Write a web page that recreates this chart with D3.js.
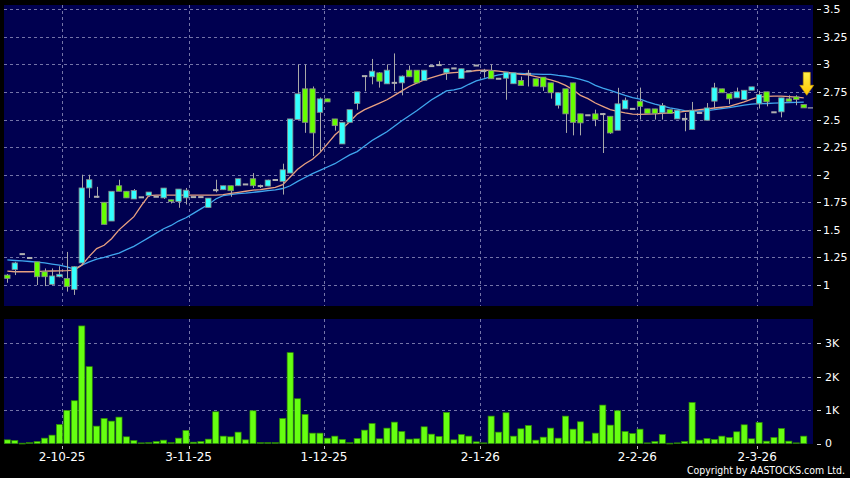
<!DOCTYPE html>
<html>
<head>
<meta charset="utf-8">
<style type="text/css">
body { margin: 0; background: #000; }
text { font-family: "DejaVu Sans", sans-serif; fill: #fff; }
</style>
</head>
<body>
<script src="https://d3js.org/d3.v7.min.js"></script>
<script>
// daily candles (HKD)
var opens = [1.09,1.14,1.28,1.245,1.21,1.12,1.006,1.075,1.06,0.96,
  1.20,1.88,1.80,1.75,1.58,1.90,1.85,1.78,1.795,1.812,
  1.80,1.79,1.773,1.757,1.79,1.797,1.797,1.703,1.86,1.864,
  1.90,1.90,1.912,1.964,1.897,1.897,1.952,1.94,2.015,2.50,
  2.779,2.779,2.566,2.688,2.506,2.279,2.475,2.645,2.894,2.888,
  2.924,2.824,2.833,2.833,2.948,2.948,2.855,2.985,2.994,2.924,
  2.964,2.873,2.939,2.99,2.94,2.945,2.87,2.875,2.825,2.855,
  2.915,2.87,2.885,2.833,2.63,2.779,2.833,2.552,2.539,2.552,
  2.55,2.53,2.403,2.597,2.597,2.666,2.597,2.597,2.561,2.59,
  2.506,2.506,2.41,2.56,2.494,2.667,2.779,2.734,2.697,2.682,
  2.766,2.643,2.752,2.566,2.57,2.688,2.706,2.636];
var highs = [1.10,1.21,1.28,1.245,1.21,1.15,1.15,1.17,1.30,1.17,
  2.00,2.00,1.89,1.75,1.85,1.955,1.85,1.87,1.795,1.843,
  1.80,1.88,1.773,1.87,1.88,1.797,1.797,1.788,1.955,1.90,
  1.90,1.964,1.912,2.015,1.91,1.955,1.952,2.10,2.506,3.00,
  3.00,2.80,2.70,2.69,2.506,2.475,2.59,2.752,2.90,3.05,
  2.93,3.00,3.10,2.90,2.99,2.948,2.948,2.985,3.03,2.961,
  2.964,2.961,2.939,2.99,2.96,3.00,2.87,2.93,2.924,2.89,
  2.95,2.87,2.885,2.833,2.743,2.779,2.833,2.552,2.539,2.59,
  2.56,2.53,2.788,2.70,2.597,2.79,2.597,2.597,2.65,2.59,
  2.585,2.56,2.66,2.56,2.65,2.833,2.779,2.734,2.79,2.766,
  2.797,2.76,2.752,2.566,2.697,2.72,2.72,2.636];
var lows = [1.02,1.09,1.28,1.245,1.00,0.99,1.00,1.07,0.94,0.91,
  1.19,1.79,1.79,1.55,1.58,1.85,1.79,1.78,1.795,1.80,
  1.80,1.78,1.74,1.70,1.73,1.797,1.797,1.703,1.84,1.864,
  1.80,1.90,1.912,1.88,1.88,1.897,1.952,1.82,2.015,2.50,
  2.38,2.17,2.21,2.66,2.40,2.279,2.475,2.59,2.757,2.82,
  2.79,2.824,2.76,2.72,2.888,2.833,2.855,2.985,2.994,2.86,
  2.964,2.873,2.939,2.99,2.88,2.87,2.87,2.68,2.825,2.81,
  2.80,2.803,2.76,2.69,2.60,2.379,2.357,2.357,2.539,2.44,
  2.197,2.37,2.403,2.597,2.597,2.50,2.555,2.50,2.50,2.555,
  2.506,2.394,2.41,2.56,2.494,2.60,2.743,2.64,2.697,2.682,
  2.766,2.60,2.62,2.566,2.52,2.666,2.63,2.606];
var closes = [1.06,1.20,1.28,1.245,1.075,1.075,1.082,1.097,0.985,1.166,
  1.88,1.955,1.80,1.55,1.85,1.85,1.79,1.857,1.795,1.843,
  1.80,1.879,1.757,1.87,1.86,1.797,1.797,1.788,1.86,1.90,
  1.855,1.964,1.912,1.90,1.897,1.952,1.952,2.045,2.506,2.734,
  2.475,2.379,2.688,2.66,2.445,2.475,2.59,2.752,2.894,2.939,
  2.848,2.948,2.833,2.894,2.888,2.833,2.948,2.985,2.994,2.961,
  2.964,2.961,2.939,2.99,2.94,2.87,2.87,2.93,2.924,2.81,
  2.915,2.803,2.797,2.743,2.743,2.552,2.475,2.47,2.539,2.50,
  2.55,2.379,2.643,2.676,2.597,2.62,2.555,2.555,2.627,2.555,
  2.585,2.506,2.585,2.56,2.606,2.788,2.743,2.688,2.752,2.766,
  2.797,2.727,2.661,2.566,2.697,2.666,2.682,2.606];
// volume (shares, thousands scale on axis)
var volumes = [110,90,10,30,60,160,250,570,990,1280,
  3520,2300,520,750,670,790,200,90,20,30,
  60,100,30,160,390,40,60,130,950,220,
  200,340,110,980,30,30,30,750,2720,1340,
  870,310,310,160,220,120,30,150,400,600,
  140,460,640,360,130,140,500,280,210,930,
  110,270,220,50,20,820,340,920,220,440,
  540,100,190,460,160,820,430,650,70,310,
  1150,550,980,360,300,430,20,60,270,10,
  20,60,1230,100,150,120,220,180,350,560,
  140,630,70,180,450,70,20,220];
// moving averages as drawn
var maShort = [1.125,1.12,1.12,1.12,1.122,1.125,1.127,1.128,1.13,1.135,
  1.18,1.26,1.33,1.36,1.42,1.50,1.56,1.62,1.72,1.81,
  1.815,1.815,1.815,1.815,1.815,1.815,1.815,1.815,1.815,1.82,
  1.83,1.84,1.85,1.86,1.865,1.875,1.885,1.91,1.98,2.05,
  2.10,2.14,2.20,2.28,2.36,2.42,2.48,2.55,2.59,2.62,
  2.65,2.68,2.72,2.76,2.80,2.83,2.86,2.88,2.90,2.92,
  2.925,2.93,2.935,2.945,2.948,2.945,2.94,2.93,2.92,2.91,
  2.905,2.89,2.875,2.86,2.84,2.81,2.77,2.72,2.69,2.65,
  2.62,2.59,2.575,2.56,2.55,2.548,2.55,2.552,2.556,2.561,
  2.566,2.575,2.58,2.59,2.597,2.605,2.612,2.62,2.64,2.66,
  2.685,2.705,2.71,2.712,2.712,2.708,2.703,2.697];
var maLong = [1.227,1.222,1.218,1.213,1.208,1.20,1.19,1.18,1.165,1.145,
  1.18,1.21,1.235,1.25,1.27,1.29,1.32,1.35,1.39,1.43,
  1.47,1.51,1.54,1.58,1.61,1.65,1.69,1.73,1.78,1.81,
  1.82,1.828,1.833,1.84,1.848,1.855,1.862,1.875,1.90,1.94,
  1.975,2.01,2.04,2.07,2.10,2.14,2.18,2.21,2.26,2.31,
  2.35,2.39,2.44,2.49,2.535,2.58,2.63,2.68,2.72,2.76,
  2.77,2.785,2.82,2.85,2.87,2.89,2.905,2.915,2.918,2.918,
  2.915,2.912,2.91,2.909,2.90,2.893,2.88,2.865,2.845,2.81,
  2.785,2.765,2.743,2.72,2.70,2.685,2.66,2.64,2.625,2.606,
  2.595,2.582,2.576,2.578,2.582,2.59,2.60,2.608,2.62,2.632,
  2.64,2.645,2.646,2.65,2.652,2.655,2.656,2.658];

var dateLabels = ["2-10-25","3-11-25","1-12-25","2-1-26","2-2-26","2-3-26"];
var datePos = [7.3, 24.3, 42.5, 63.5, 84.6, 100.7]; // bar position of each label
var priceTicks = [1, 1.25, 1.5, 1.75, 2, 2.25, 2.5, 2.75, 3, 3.25, 3.5];
var volTicks = [0, 1000, 2000, 3000];
var volTickLabels = ["0", "1K", "2K", "3K"];
var arrowTip = 2.72; // price level of the yellow marker tip

var W = 850, H = 478;
var left = 4, right = 813;
var pTop = 5, pBottom = 306;
var vTop = 319, vBottom = 444;
var navy = "#000050", gridCol = "#7474a8";
var upCol = "#33ffff", downCol = "#66ff00", dojiCol = "#b0b0b0";

var n = closes.length;
var svg = d3.select("body").append("svg")
    .attr("width", W).attr("height", H)
    .style("display", "block");

svg.append("rect").attr("width", W).attr("height", H).attr("fill", "#000");

var x = d3.scaleBand().domain(d3.range(n))
    .range([left, left + n * 7.436]).paddingInner(0.1).paddingOuter(0);
var step = x.step(), bw = x.bandwidth();
function xc(i) { return left + step * i + bw / 2; }
function xpos(t) { return left + step * (t + 0.5); }

var y = d3.scaleLinear().domain([1, 3.5]).range([285, 9.3]);
var yv = d3.scaleLinear().domain([0, 3000]).range([443.5, 343.3]);

// panels
svg.append("rect").attr("x", left).attr("y", pTop)
  .attr("width", right - left).attr("height", pBottom - pTop).attr("fill", navy);
svg.append("rect").attr("x", left).attr("y", vTop)
  .attr("width", right - left).attr("height", vBottom - vTop).attr("fill", navy);

// grid
var grid = svg.append("g").attr("stroke", gridCol).attr("stroke-width", 1)
  .attr("stroke-dasharray", "3,3").attr("fill", "none");
grid.selectAll(".hp").data(priceTicks).enter().append("line")
  .attr("x1", left).attr("x2", right)
  .attr("y1", d => Math.round(y(d)) + 0.5).attr("y2", d => Math.round(y(d)) + 0.5);
grid.selectAll(".hv").data(volTicks.slice(1)).enter().append("line")
  .attr("x1", left).attr("x2", right)
  .attr("y1", d => Math.round(yv(d)) + 0.5).attr("y2", d => Math.round(yv(d)) + 0.5);
grid.selectAll(".vp").data(datePos).enter().append("line")
  .attr("x1", d => Math.round(xpos(d)) + 0.5).attr("x2", d => Math.round(xpos(d)) + 0.5)
  .attr("y1", pTop).attr("y2", pBottom);
grid.selectAll(".vv").data(datePos).enter().append("line")
  .attr("x1", d => Math.round(xpos(d)) + 0.5).attr("x2", d => Math.round(xpos(d)) + 0.5)
  .attr("y1", vTop).attr("y2", vBottom);

// moving averages
var line = d3.line().x((d, i) => xc(i)).y(d => y(d));
svg.append("path").datum(maLong).attr("d", line)
  .attr("fill", "none").attr("stroke", "#3fa6ee").attr("stroke-width", 1.3);
svg.append("path").datum(maShort).attr("d", line)
  .attr("fill", "none").attr("stroke", "#e8a080").attr("stroke-width", 1.3);

// candles
var candles = svg.append("g").selectAll("g").data(d3.range(n)).enter().append("g");
candles.append("line")
  .attr("x1", i => Math.round(xc(i)) + 0.5).attr("x2", i => Math.round(xc(i)) + 0.5)
  .attr("y1", i => y(highs[i])).attr("y2", i => y(lows[i]))
  .attr("stroke", "#a8a8a8").attr("stroke-width", 1);
candles.append("rect")
  .attr("x", i => xc(i) - 2.7)
  .attr("width", 5.4)
  .attr("y", i => opens[i] === closes[i] ? y(closes[i]) - 1 : y(Math.max(opens[i], closes[i])))
  .attr("height", i => opens[i] === closes[i] ? 2 : Math.max(1.5, Math.abs(y(opens[i]) - y(closes[i]))))
  .attr("fill", i => closes[i] > opens[i] ? upCol : (closes[i] < opens[i] ? downCol : dojiCol))
  .attr("stroke", i => opens[i] === closes[i] ? "none" : "#8a8a8a")
  .attr("stroke-width", 0.8);

// last price marker
svg.append("line")
  .attr("x1", xc(n - 1) + 4).attr("x2", right)
  .attr("y1", y(closes[n - 1])).attr("y2", y(closes[n - 1]))
  .attr("stroke", "#a8a8a8").attr("stroke-width", 1.2);

// yellow arrow above the last bar
var ax = xc(n - 1) + 3, at = y(arrowTip);
var grad = svg.append("defs").append("linearGradient").attr("id", "arw")
  .attr("x1", 0).attr("x2", 0).attr("y1", 0).attr("y2", 1);
grad.append("stop").attr("offset", "0%").attr("stop-color", "#fff04a");
grad.append("stop").attr("offset", "100%").attr("stop-color", "#ffc400");
svg.append("path")
  .attr("d", "M" + (ax - 3.5) + "," + (at - 23) + " L" + (ax + 3.5) + "," + (at - 23) +
    " L" + (ax + 3.5) + "," + (at - 10) + " L" + (ax + 7) + "," + (at - 10) +
    " L" + ax + "," + at + " L" + (ax - 7) + "," + (at - 10) +
    " L" + (ax - 3.5) + "," + (at - 10) + "Z")
  .attr("fill", "url(#arw)").attr("stroke", "#d09a00").attr("stroke-width", 0.6);

// volume bars
svg.append("g").selectAll("rect").data(volumes).enter().append("rect")
  .attr("x", (d, i) => x(i) + 0.3)
  .attr("width", bw - 0.6)
  .attr("y", d => yv(d))
  .attr("height", d => Math.max(0.8, yv(0) - yv(d)))
  .attr("fill", d => d < 40 ? "#2e7a10" : "#66ff11")
  .attr("stroke", "#2f8f00").attr("stroke-width", 0.7);

// right axes
var ax1 = svg.append("g");
ax1.selectAll("line").data(priceTicks).enter().append("line")
  .attr("x1", right + 4).attr("x2", right + 8)
  .attr("y1", d => Math.round(y(d)) + 0.5).attr("y2", d => Math.round(y(d)) + 0.5)
  .attr("stroke", "#ddd");
ax1.selectAll("text").data(priceTicks).enter().append("text")
  .attr("x", right + 10).attr("y", d => y(d)).attr("dy", "0.36em")
  .style("font-size", "11px")
  .text(d => d3.format("~g")(d));

var ax2 = svg.append("g");
ax2.selectAll("line").data(volTicks).enter().append("line")
  .attr("x1", right + 4).attr("x2", right + 8)
  .attr("y1", d => Math.round(yv(d)) + 0.5).attr("y2", d => Math.round(yv(d)) + 0.5)
  .attr("stroke", "#ddd");
ax2.selectAll("text").data(volTicks).enter().append("text")
  .attr("x", right + 12).attr("y", d => yv(d)).attr("dy", "0.36em")
  .style("font-size", "11px")
  .text((d, i) => volTickLabels[i]);

// date axis
var ax3 = svg.append("g");
ax3.selectAll("line").data(datePos).enter().append("line")
  .attr("x1", d => Math.round(xpos(d)) + 0.5).attr("x2", d => Math.round(xpos(d)) + 0.5)
  .attr("y1", vBottom + 2).attr("y2", vBottom + 5)
  .attr("stroke", "#bbb");
ax3.selectAll("text").data(datePos).enter().append("text")
  .attr("x", d => xpos(d)).attr("y", 461)
  .attr("text-anchor", "middle")
  .style("font-size", "12px")
  .text((d, i) => dateLabels[i]);

svg.append("text")
  .attr("x", 687).attr("y", 474)
  .attr("textLength", 158).attr("lengthAdjust", "spacingAndGlyphs")
  .style("font-size", "10px")
  .text("Copyright by AASTOCKS.com Ltd.");
</script>
</body>
</html>
